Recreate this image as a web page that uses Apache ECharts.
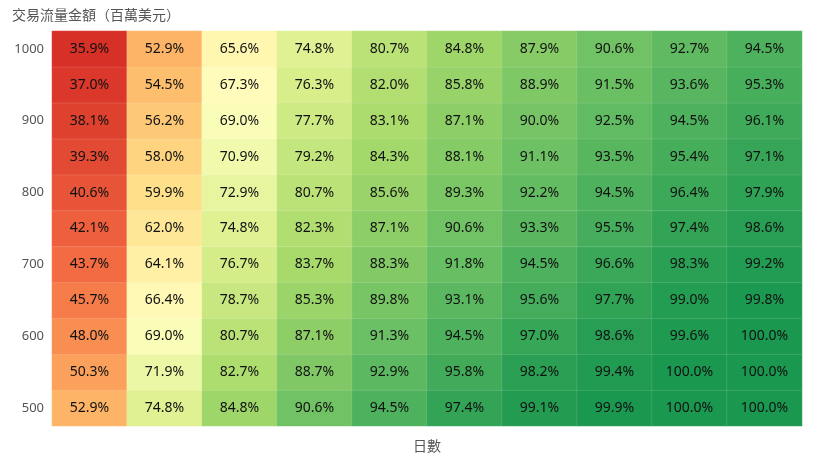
<!DOCTYPE html>
<html>
<head>
    <meta charset="utf-8">
    <title>交易流量金額熱力圖</title>
    <script src="https://cdn.jsdelivr.net/npm/echarts@6/dist/echarts.min.js"></script>
</head>
<body style="margin:0">
    <div id="chart" style="width: 820px;height:459px;"></div>

    <script>
        // 橫軸：日數（圖上未標示刻度）
        const days = ['1', '2', '3', '4', '5', '6', '7', '8', '9', '10'];
        // 縱軸：交易流量金額（百萬美元）
        const amounts = ['500', '550', '600', '650', '700', '750', '800', '850', '900', '950', '1000'];

        // 每列對應一個金額，由 500 到 1000
        const row500  = [52.9, 74.8, 84.8, 90.6, 94.5, 97.4, 99.1, 99.9, 100.0, 100.0];
        const row550  = [50.3, 71.9, 82.7, 88.7, 92.9, 95.8, 98.2, 99.4, 100.0, 100.0];
        const row600  = [48.0, 69.0, 80.7, 87.1, 91.3, 94.5, 97.0, 98.6, 99.6, 100.0];
        const row650  = [45.7, 66.4, 78.7, 85.3, 89.8, 93.1, 95.6, 97.7, 99.0, 99.8];
        const row700  = [43.7, 64.1, 76.7, 83.7, 88.3, 91.8, 94.5, 96.6, 98.3, 99.2];
        const row750  = [42.1, 62.0, 74.8, 82.3, 87.1, 90.6, 93.3, 95.5, 97.4, 98.6];
        const row800  = [40.6, 59.9, 72.9, 80.7, 85.6, 89.3, 92.2, 94.5, 96.4, 97.9];
        const row850  = [39.3, 58.0, 70.9, 79.2, 84.3, 88.1, 91.1, 93.5, 95.4, 97.1];
        const row900  = [38.1, 56.2, 69.0, 77.7, 83.1, 87.1, 90.0, 92.5, 94.5, 96.1];
        const row950  = [37.0, 54.5, 67.3, 76.3, 82.0, 85.8, 88.9, 91.5, 93.6, 95.3];
        const row1000 = [35.9, 52.9, 65.6, 74.8, 80.7, 84.8, 87.9, 90.6, 92.7, 94.5];

        const rows = [row500, row550, row600, row650, row700, row750, row800, row850, row900, row950, row1000];

        // 轉成 [x, y, value]
        const data = [];
        rows.forEach(function (row, y) {
            row.forEach(function (v, x) {
                data.push([x, y, v]);
            });
        });

        const chart = echarts.init(document.getElementById('chart'));

        const option = {
            textStyle: { fontFamily: '"Noto Sans", "Noto Sans CJK TC", sans-serif' },
            title: {
                text: '交易流量金額（百萬美元）',
                left: 7,
                top: 4,
                textStyle: { fontSize: 14, fontWeight: 'normal', color: '#555' }
            },
            grid: { left: 52, right: 18, top: 31, bottom: 31 },
            xAxis: {
                type: 'category',
                data: days,
                name: '日數',
                nameLocation: 'middle',
                nameGap: 14,
                nameTextStyle: { fontSize: 14, color: '#555' },
                axisLabel: { show: false },
                axisTick: { show: false },
                axisLine: { show: false },
                splitArea: { show: false }
            },
            yAxis: {
                type: 'category',
                data: amounts,
                axisLabel: { interval: 1, fontSize: 13, color: '#555', margin: 8 },
                axisTick: { show: false },
                axisLine: { show: false }
            },
            visualMap: {
                show: false,
                min: 35.9,
                max: 100,
                calculable: false,
                inRange: {
                    color: ['#d73027', '#f46d43', '#fdae61', '#fee08b', '#ffffbf',
                            '#d9ef8b', '#a6d96a', '#66bd63', '#1a9850']
                }
            },
            series: [{
                type: 'heatmap',
                data: data,
                label: {
                    show: true,
                    fontSize: 14,
                    color: '#111',
                    formatter: function (p) { return p.value[2].toFixed(1) + '%'; }
                },
                itemStyle: { borderColor: 'rgba(255,255,255,0.12)', borderWidth: 1 }
            }]
        };

        chart.setOption(option);
    </script>
</body>
</html>
